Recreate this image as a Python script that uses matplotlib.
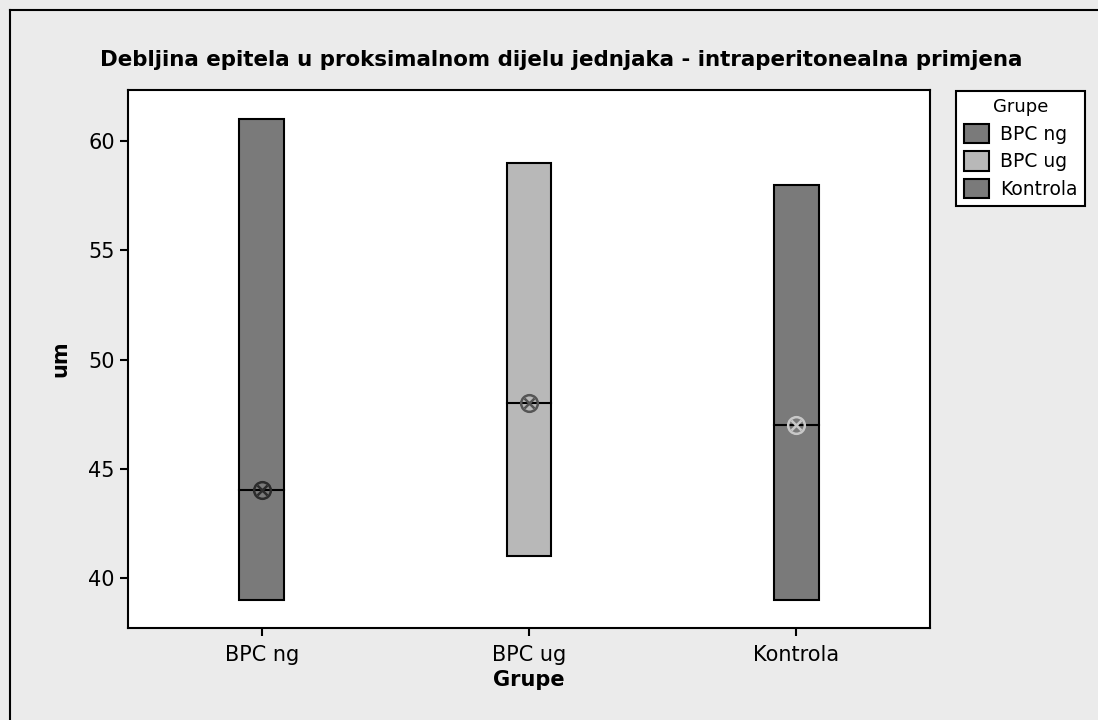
import matplotlib
matplotlib.use("Agg")
import matplotlib.pyplot as plt
from matplotlib.patches import Patch
from matplotlib.lines import Line2D

# data
groups = ["BPC ng", "BPC ug", "Kontrola"]
q_low = [39, 41, 39]
q_high = [61, 59, 58]
medians = [44, 48, 47]
means = [44, 48, 47]
box_colors = ["#7a7a7a", "#b8b8b8", "#7a7a7a"]
mean_colors = ["#2b2b2b", "#555555", "#c8c8c8"]

bg = "#ebebeb"
fig = plt.figure(figsize=(10.98, 7.2), dpi=100, facecolor=bg)
ax = fig.add_axes([128 / 1098, 1 - 628 / 720, (930 - 128) / 1098, (628 - 90) / 720])

# outer frame (top and left visible)
fig.add_artist(Line2D([9.5 / 1098, 1.0], [1 - 9.5 / 720] * 2, color="black", lw=1.5))
fig.add_artist(Line2D([9.5 / 1098] * 2, [0, 1 - 9.5 / 720], color="black", lw=1.5))

positions = [1, 2, 3]
width = 0.168
for x, lo, hi, med, mn, fc, mc in zip(positions, q_low, q_high, medians, means, box_colors, mean_colors):
    ax.bar(x, hi - lo, bottom=lo, width=width, color=fc, edgecolor="black", linewidth=1.5, zorder=2)
    ax.plot([x - width / 2, x + width / 2], [med, med], color="black", lw=1.5, zorder=3)
    ax.plot(x, mn, marker="o", ms=12, mfc="none", mec=mc, mew=1.8, zorder=4)
    ax.plot(x, mn, marker="x", ms=7.5, mec=mc, mew=1.8, zorder=4)

ax.set_xlim(0.5, 3.5)
ax.set_ylim(37.7, 62.35)
ax.set_xticks(positions)
ax.set_xticklabels(groups)
ax.set_yticks([40, 45, 50, 55, 60])
ax.tick_params(axis="both", labelsize=15, length=6, width=1.5, color="black")
ax.tick_params(axis="x", pad=6)
for s in ax.spines.values():
    s.set_linewidth(1.5)

ax.set_xlabel("Grupe", fontsize=15, fontweight="bold", labelpad=4)
ax.set_ylabel("um", fontsize=15, fontweight="bold", labelpad=13)
fig.text(561 / 1098, 1 - 60 / 720, "Debljina epitela u proksimalnom dijelu jednjaka - intraperitonealna primjena",
         ha="center", va="center", fontsize=15.4, fontweight="bold")

handles = [Patch(facecolor=c, edgecolor="black", linewidth=1.5) for c in box_colors]
leg = fig.legend(handles, groups, title="Grupe", loc="upper left",
                 bbox_to_anchor=(956 / 1098, 1 - 91 / 720), fontsize=13.5, title_fontsize=13,
                 fancybox=False, edgecolor="black", framealpha=1, borderaxespad=0,
                 handlelength=1.35, handleheight=1.2, handletextpad=0.6, labelspacing=0.4,
                 borderpad=0.4)
leg.get_frame().set_linewidth(1.5)

fig.savefig("out.png", dpi=100, facecolor=bg)
